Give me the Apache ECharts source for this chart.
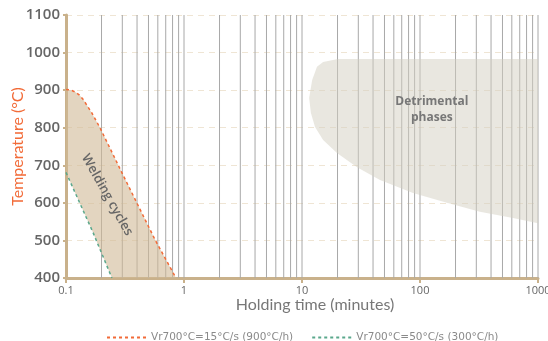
<!DOCTYPE html>
<html><head><meta charset="utf-8">
<script src="https://cdn.jsdelivr.net/npm/echarts@6/dist/echarts.min.js"></script>
<style>html,body{margin:0;padding:0;background:#fff}#c{width:548px;height:341px}</style>
</head><body><div id="c"></div>
<script>
// ---- data ----
const yTicks = [400, 500, 600, 700, 800, 900, 1000, 1100];
const xTickLabels = ['0.1', '1', '10', '100', '1000'];
const seriesNames = ['Vr700°C=15°C/s (900°C/h)', 'Vr700°C=50°C/s (300°C/h)'];
// cooling curve 15°C/s (upper boundary of welding cycles) [time min, temp °C]
const curve15 = [[0.1, 902], [0.11, 900], [0.12, 895], [0.13, 887], [0.14, 875], [0.165, 840], [0.194, 800], [0.298, 680], [0.568, 502], [0.855, 400]];
// cooling curve 50°C/s (lower boundary)
const curve50 = [[0.1, 681], [0.169, 522], [0.245, 400]];
// detrimental phases region outline
const detrimentalOutline = [[20.2, 983], [1000, 983], [1000, 546], [614, 560], [322, 576], [169, 600], [87.3, 626], [45.8, 661], [29.3, 695], [19.8, 733], [15.1, 767], [12.9, 802], [11.9, 839], [11.5, 879], [12.2, 927], [13.4, 962], [15.1, 975]];
// vertical grid times
const gridTimes = [0.2,0.3,0.4,0.5,0.6,0.7,0.8,0.9,1,2,3,4,5,6,7,8,9,10,20,30,40,50,60,70,80,90,100,200,300,400,500,600,700,800,900,1000];
const regionLabels = [{ text: 'Detrimental\nphases', at: [126, 847] }, { text: 'Welding cycles', at: [0.223, 621] }];

const tan = '#c9b18b';
const orange = '#f26b38';
const green = '#5aa88c';
const weldingPolygon = curve15.concat(curve50.slice().reverse());

function polygonRenderer(points, fill) {
  return function (params, api) {
    if (params.dataIndex !== 0) return;
    return { type: 'polygon', shape: { points: points.map(p => api.coord(p)) }, style: { fill: fill } };
  };
}

const chart = echarts.init(document.getElementById('c'));
chart.setOption({
  animation: false,
  grid: { left: 66, right: 10, top: 15, bottom: 63, containLabel: false, outerBoundsMode: 'none' },
  legend: {
    data: seriesNames,
    left: 101, top: 327,
    itemWidth: 39, itemHeight: 10, itemGap: 18,
    itemStyle: { opacity: 0 },
    textStyle: { fontFamily: 'DejaVu Sans', fontSize: 10.5, color: '#8a8a8a' }
  },
  xAxis: {
    type: 'log', logBase: 10, min: 0.1, max: 1000,
    name: 'Holding time (minutes)', nameLocation: 'middle', nameGap: 19, nameMoveOverlap: false,
    nameTextStyle: { fontFamily: 'Lato', fontSize: 16, color: '#777', padding: [0, 0, 0, 26] },
    axisLine: { lineStyle: { color: tan, width: 3 } },
    axisTick: { show: true, length: 5, lineStyle: { color: tan, width: 2 } },
    axisLabel: { fontFamily: 'Open Sans', fontSize: 11, color: '#666', margin: 7,
      formatter: v => { const s = xTickLabels.find(t => Math.abs(parseFloat(t) - v) < 1e-6 * v); return s || ''; } },
    splitLine: { show: false }
  },
  yAxis: {
    type: 'value', min: 400, max: 1100, interval: 100,
    name: 'Temperature (°C)', nameLocation: 'middle', nameGap: 40, nameMoveOverlap: false,
    nameTextStyle: { fontFamily: 'Lato', fontSize: 16, color: orange },
    axisLine: { show: true, lineStyle: { color: tan, width: 3 } },
    axisTick: { show: true, length: 3, lineStyle: { color: tan, width: 2 } },
    axisLabel: { fontFamily: 'Open Sans', fontWeight: 600, fontSize: 15, color: '#666', margin: 6,
      formatter: v => yTicks.includes(v) ? String(v) : '' },
    splitLine: { show: true, lineStyle: { color: '#efe5d4', type: [6, 5], width: 1 } }
  },
  series: [
    {
      type: 'custom', name: 'vgrid', z: 1, silent: true,
      data: gridTimes.map(t => [t, 400]),
      renderItem: function (params, api) {
        const t = api.value(0);
        const a = api.coord([t, 400]), b = api.coord([t, 1100]);
        return { type: 'line', shape: { x1: a[0], y1: a[1], x2: b[0], y2: b[1] }, style: { stroke: '#a8a8a8', lineWidth: 1 } };
      }
    },
    {
      type: 'custom', name: 'detrimental', z: 2, silent: true,
      data: detrimentalOutline,
      renderItem: polygonRenderer(detrimentalOutline, 'rgba(211,207,193,0.5)')
    },
    {
      type: 'custom', name: 'welding', z: 2, silent: true,
      data: weldingPolygon,
      renderItem: polygonRenderer(weldingPolygon, 'rgba(208,185,150,0.6)')
    },
    {
      type: 'line', name: seriesNames[0], z: 3, data: curve15, smooth: false, symbol: 'none',
      itemStyle: { color: orange },
      lineStyle: { color: orange, width: 1.5, type: [3, 3] }
    },
    {
      type: 'line', name: seriesNames[1], z: 3, data: curve50, smooth: false, symbol: 'none',
      itemStyle: { color: green },
      lineStyle: { color: green, width: 1.5, type: [3, 3] }
    },
    {
      type: 'custom', name: 'labels', z: 4, silent: true,
      data: regionLabels.map(r => r.at),
      renderItem: function (params, api) {
        const p = api.coord([api.value(0), api.value(1)]);
        const lab = regionLabels[params.dataIndex];
        if (params.dataIndex === 0) {
          return { type: 'text', x: p[0], y: p[1], style: { text: lab.text, align: 'center', verticalAlign: 'middle',
            font: 'bold 12px "Open Sans"', lineHeight: 16, fill: '#777' } };
        }
        return { type: 'text', x: p[0], y: p[1], rotation: -1.058, style: { text: lab.text, align: 'center', verticalAlign: 'middle',
          font: '600 13px "Open Sans"', fill: '#666' } };
      }
    }
  ]
});
</script>
</body></html>
